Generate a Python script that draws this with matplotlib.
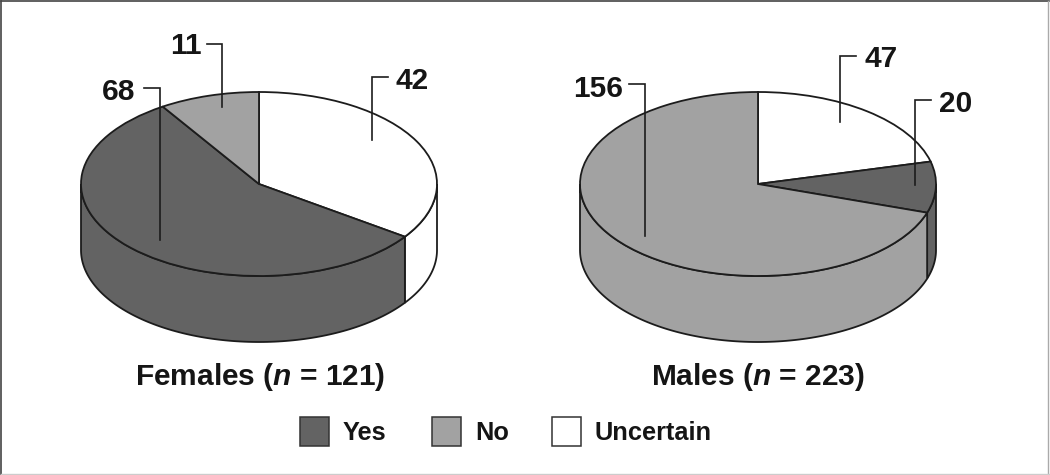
import numpy as np
from matplotlib import pyplot as plt
from matplotlib.patches import Polygon, Rectangle

plt.rcParams['font.family'] = ['Liberation Sans', 'DejaVu Sans']
plt.rcParams['mathtext.fontset'] = 'custom'
plt.rcParams['mathtext.bfit'] = 'Liberation Sans:italic:bold'

categories = ["Uncertain", "Yes", "No"]
females = [42, 68, 11]
males = [47, 20, 156]
colors = ["#ffffff", "#636363", "#a2a2a2"]
legend_order = ["Yes", "No", "Uncertain"]
titles = [r"Females ($\mathbfit{n}$ = 121)", r"Males ($\mathbfit{n}$ = 223)"]

W, H = 1050, 475
RX, RY, DEPTH = 178, 92, 66
LINE = "#1c1c1c"
TXT = "#151515"

fig = plt.figure(figsize=(W / 100, H / 100), dpi=100)

# overlay in pixel coords for the texts and leader lines
over = fig.add_axes([0, 0, 1, 1], zorder=5)
over.set_xlim(0, W)
over.set_ylim(H, 0)
over.axis("off")
over.patch.set_alpha(0)


def draw_pie(values, cx, cy):
    ax = fig.add_axes([(cx - RX) / W, 1 - (cy + RY) / H, 2 * RX / W, 2 * RY / H])
    wedges, _ = ax.pie(values, colors=colors, startangle=90, counterclock=False,
                       wedgeprops=dict(edgecolor=LINE, linewidth=1.3))
    ax.set_aspect("auto")
    ax.set_xlim(-1, 1)
    ax.set_ylim(-1, 1)
    d = DEPTH / RY
    # side wall, only the front half of the rim shows
    start = 0
    total = sum(values)
    for v, c in zip(values, colors):
        end = start + 360 * v / total
        a = max(start, 90)
        b = min(end, 270)
        if b > a:
            t = np.radians(np.linspace(a, b, 120))
            x, y = np.sin(t), np.cos(t)
            pts = np.r_[np.c_[x, y], np.c_[x, y - d][::-1]]
            ax.add_patch(Polygon(pts, closed=True, facecolor=c, edgecolor=LINE,
                                 linewidth=1.3, clip_on=False, zorder=0.5))
        start = end
    return ax


draw_pie(females, 259, 184)
draw_pie(males, 758, 184)

# leader lines + value labels: (value, label x, label y, line points)
labels = [
    (68, 119, 92, [(144, 88), (160, 88), (160, 240)]),
    (11, 186, 46, [(207, 44), (222, 44), (222, 107)]),
    (42, 412, 81, [(388, 77), (372, 77), (372, 140)]),
    (156, 598, 89, [(629, 84), (645, 84), (645, 236)]),
    (47, 881, 59, [(856, 56), (840, 56), (840, 122)]),
    (20, 956, 104, [(931, 100), (915, 100), (915, 185)]),
]
for val, tx, ty, pts in labels:
    over.plot(*zip(*pts), color=LINE, lw=1.2, solid_joinstyle="miter")
    over.text(tx, ty, str(val), ha="center", va="center", fontsize=21.5,
              fontweight="bold", color=TXT)

over.text(260, 377, titles[0], ha="center", va="center", fontsize=21.5,
          fontweight="bold", color=TXT)
over.text(758, 377, titles[1], ha="center", va="center", fontsize=21.5,
          fontweight="bold", color=TXT)

# legend
for name, bx, tx in zip(legend_order, [300, 432, 552], [343, 475, 595]):
    c = colors[categories.index(name)]
    over.add_patch(Rectangle((bx, 417), 29, 29, facecolor=c, edgecolor="#333333", lw=1.1))
    over.text(tx, 433, name, ha="left", va="center", fontsize=18.3,
              fontweight="bold", color=TXT)

# frame, darker at the top and left like the scan
over.plot([1, 1], [1, H - 1], color="#444444", lw=1.2, clip_on=False)
over.plot([1, W - 1], [1, 1], color="#444444", lw=1.2, clip_on=False)
over.plot([W - 2, W - 2], [1, H - 1], color="#aaaaaa", lw=1.0, clip_on=False)
over.plot([1, W - 1], [H - 1, H - 1], color="#cccccc", lw=1.0, clip_on=False)

fig.savefig("out.png", dpi=100)
